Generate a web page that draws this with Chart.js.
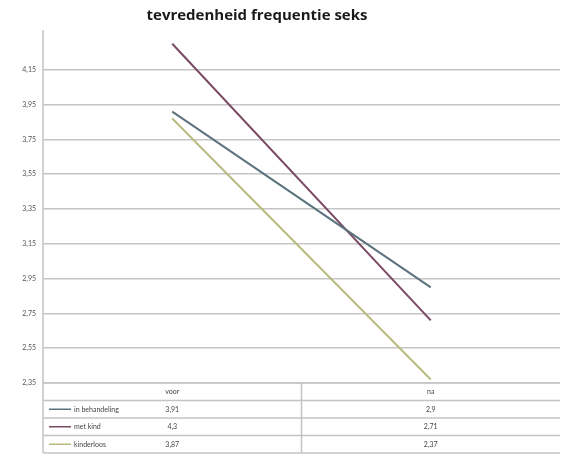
<!DOCTYPE html>
<html>
<head>
<meta charset="utf-8">
<script src="https://cdn.jsdelivr.net/npm/chart.js@4/dist/chart.umd.min.js"></script>
<style>
  html, body { margin: 0; padding: 0; background: #fff; }
  #wrap { width: 563px; height: 457px; }
</style>
</head>
<body>
<div id="wrap"><canvas id="myChart" width="563" height="457"></canvas></div>
<script>
let categories = ['voor', 'na'];
let inBehandeling = [3.91, 2.9];
let metKind = [4.3, 2.71];
let kinderloos = [3.87, 2.37];
let yTicks = [2.35, 2.55, 2.75, 2.95, 3.15, 3.35, 3.55, 3.75, 3.95, 4.15];

let seriesNames = ['in behandeling', 'met kind', 'kinderloos'];
let seriesColors = ['#5a737c', '#7a4a64', '#baba80'];

function fmt(v) {
    return String(v).replace('.', ',');
}

// title + data table underneath the plot, like the Excel chart
let tablePlugin = {
    id: 'dataTable',
    afterDraw(chart) {
        let ctx = chart.ctx;
        let area = chart.chartArea;
        let x = chart.scales.x;
        ctx.save();

        ctx.fillStyle = '#1a1a1a';
        ctx.font = 'bold 15px "Open Sans", Lato, sans-serif';
        ctx.textAlign = 'center';
        ctx.textBaseline = 'middle';
        ctx.fillText('tevredenheid frequentie seks', 257, 16);

        let rowH = 17.5;
        let top = area.bottom;
        let left = area.left;
        let right = area.right;
        let mid = (left + right) / 2;

        ctx.strokeStyle = '#c4c4c4';
        ctx.lineWidth = 1.5;
        for (let i = 0; i <= 4; i++) {
            let y = top + i * rowH;
            ctx.beginPath();
            ctx.moveTo(left, y);
            ctx.lineTo(right, y);
            ctx.stroke();
        }
        ctx.beginPath();
        ctx.moveTo(mid, top);
        ctx.lineTo(mid, top + 4 * rowH);
        ctx.moveTo(left, area.top - 5);
        ctx.lineTo(left, top + 4 * rowH);
        ctx.stroke();

        ctx.font = '7px Lato, "Open Sans", sans-serif';
        ctx.fillStyle = '#444';
        ctx.textAlign = 'center';
        categories.forEach((c, i) => {
            ctx.fillText(c, x.getPixelForValue(i), top + rowH / 2);
        });

        let rows = [inBehandeling, metKind, kinderloos];
        rows.forEach((vals, r) => {
            let y = top + (r + 1.5) * rowH;
            ctx.strokeStyle = seriesColors[r];
            ctx.lineWidth = 1.5;
            ctx.beginPath();
            ctx.moveTo(left + 6, y);
            ctx.lineTo(left + 28, y);
            ctx.stroke();
            ctx.fillStyle = '#444';
            ctx.textAlign = 'left';
            ctx.fillText(seriesNames[r], left + 31, y);
            ctx.textAlign = 'center';
            vals.forEach((v, i) => {
                ctx.fillText(fmt(v), x.getPixelForValue(i), y);
            });
        });
        ctx.restore();
    }
};

let ctx = document.getElementById('myChart').getContext('2d');
let myChart = new Chart(ctx, {
    type: 'line',
    data: {
        labels: categories,
        datasets: [
            { label: seriesNames[0], data: inBehandeling, borderColor: seriesColors[0] },
            { label: seriesNames[1], data: metKind, borderColor: seriesColors[1] },
            { label: seriesNames[2], data: kinderloos, borderColor: seriesColors[2] }
        ]
    },
    options: {
        responsive: false,
        animation: false,
        layout: { padding: { top: 35, bottom: 74, left: 0, right: 3 } },
        elements: {
            line: { borderWidth: 2, tension: 0 },
            point: { radius: 0 }
        },
        plugins: {
            legend: { display: false },
            title: { display: false },
            tooltip: { enabled: false }
        },
        scales: {
            x: {
                display: false,
                offset: true
            },
            y: {
                min: 2.35,
                max: 4.35,
                afterFit(scale) { scale.width = 43; },
                afterBuildTicks(scale) {
                    scale.ticks = yTicks.map(v => ({ value: v }));
                },
                border: { display: false },
                grid: { color: '#c6c6c6', lineWidth: 1.5, drawTicks: false },
                ticks: {
                    padding: 7,
                    color: '#555',
                    font: { size: 7, family: 'Lato, "Open Sans", sans-serif' },
                    callback: v => fmt(v)
                }
            }
        }
    },
    plugins: [tablePlugin]
});
</script>
</body>
</html>
